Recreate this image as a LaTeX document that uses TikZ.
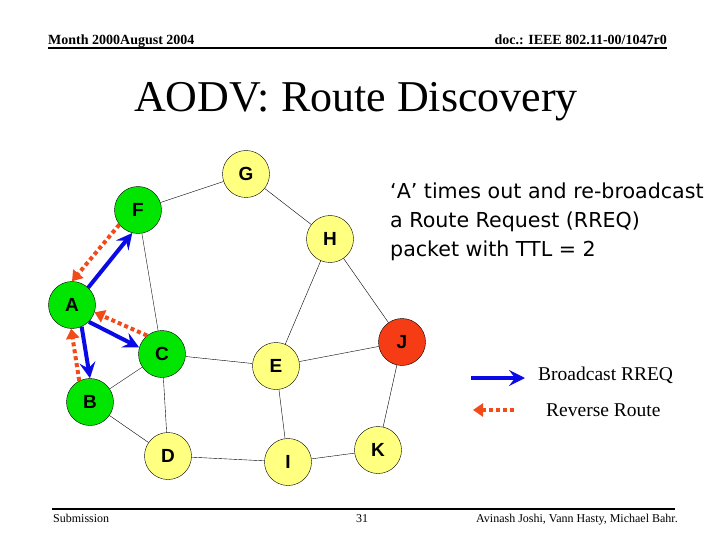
\documentclass[tikz,border=0pt]{standalone}
\usepackage{fontspec}
\setmainfont{Liberation Serif}
\setsansfont{Liberation Sans}
\newfontfamily\notefont{DejaVu Sans}
\usepackage{tikz}
\usetikzlibrary{arrows.meta}
\definecolor{nodegreen}{RGB}{0,230,0}
\definecolor{nodeyellow}{RGB}{255,255,128}
\definecolor{nodered}{RGB}{245,60,20}
\definecolor{rreqblue}{RGB}{10,10,230}
\definecolor{revred}{RGB}{240,75,25}

\begin{document}
\begin{tikzpicture}[x=1pt, y=-1pt,
  host/.style={circle, draw, thin, minimum size=47pt, inner sep=0pt,
    font=\sffamily\bfseries\fontsize{19}{19}\selectfont},
  src/.style={host, fill=nodegreen},
  idle/.style={host, fill=nodeyellow},
  dst/.style={host, fill=nodered},
  link/.style={draw, thin},
  rreq/.style={draw=rreqblue, line width=4pt, -{Stealth[length=16pt, width=16pt, inset=6pt]}},
  rrev/.style={draw=revred, line width=4pt, dash pattern=on 4pt off 3pt, -{Triangle[length=10pt, width=13pt]}}]
  \useasboundingbox (0,0) rectangle (720,540);
  % header and footer
  \node (hl) [anchor=base west, inner sep=0pt, font=\bfseries\fontsize{14}{14}\selectfont] at (48,45) {Month 2000August 2004};
  \node (hr) [anchor=base east, inner sep=0pt, font=\bfseries\fontsize{14}{14}\selectfont] at (667,45) {doc.: IEEE 802.11-00/1047r0};
  \draw[line width=2pt] (48,48) -- (667,48);
  \draw[line width=2pt] (52,509) -- (675,509);
  \node (fl) [anchor=base west, inner sep=0pt, font=\fontsize{12}{12}\selectfont] at (53,522) {Submission};
  \node (fc) [anchor=base, inner sep=0pt, font=\fontsize{12}{12}\selectfont] at (362,522) {31};
  \node (fr) [anchor=base east, inner sep=0pt, font=\fontsize{12}{12}\selectfont] at (678,522) {Avinash Joshi, Vann Hasty, Michael Bahr.};
  \node (title) [anchor=base, inner sep=0pt, font=\fontsize{44}{44}\selectfont] at (356,112) {AODV: Route Discovery};

  % hosts
  \node (G) [idle] at (246,174) {G};
  \node (F) [src]  at (138,210) {F};
  \node (H) [idle] at (330,239) {H};
  \node (A) [src]  at (72,305)  {A};
  \node (C) [src]  at (162,354) {C};
  \node (B) [src]  at (90,402)  {B};
  \node (E) [idle] at (276,366) {E};
  \node (J) [dst]  at (402,342) {J};
  \node (D) [idle] at (168,456) {D};
  \node (I) [idle] at (288,462) {I};
  \node (K) [idle] at (378,450) {K};

  \path[link]
  (G) edge (F) (G) edge (H) (H) edge (J) (H) edge (E)
  (F) edge (C) (C) edge (E) (E) edge (J) (B) edge (C)
  (C) edge (D) (B) edge (D) (D) edge (I) (E) edge (I)
  (I) edge (K) (J) edge (K);

  % RREQ out of A, reverse route back to A
  \path
  (A.47)  edge[rreq] (F.256)
  (A.-45) edge[rreq] (C.164)
  (A.-66) edge[rreq] (B.90)
  (F.218) edge[rrev] (A.90)
  (C.129) edge[rrev] (A.-18)
  (B.117) edge[rrev] (A.-92);

  \node (note) [anchor=north west, align=left, inner sep=0pt,
    font=\notefont\fontsize{20.6}{29}\selectfont] at (390,183)
    {‘A’ times out and re-broadcast\\a Route Request (RREQ)\\packet with TTL = 2};

  % legend
  \coordinate (b0) at (471,378);
  \coordinate (b1) at (525,378);
  \coordinate (r0) at (514,410);
  \coordinate (r1) at (473,410);
  \draw[rreq] (b0) -- (b1);
  \draw[rrev] (r0) -- (r1);
  \node (lb) [anchor=base west, inner sep=0pt, font=\fontsize{19.5}{19.5}\selectfont] at (538,380) {Broadcast RREQ};
  \node (lr) [anchor=base west, inner sep=0pt, font=\fontsize{19.5}{19.5}\selectfont] at (546,416) {Reverse Route};
\end{tikzpicture}
\end{document}
